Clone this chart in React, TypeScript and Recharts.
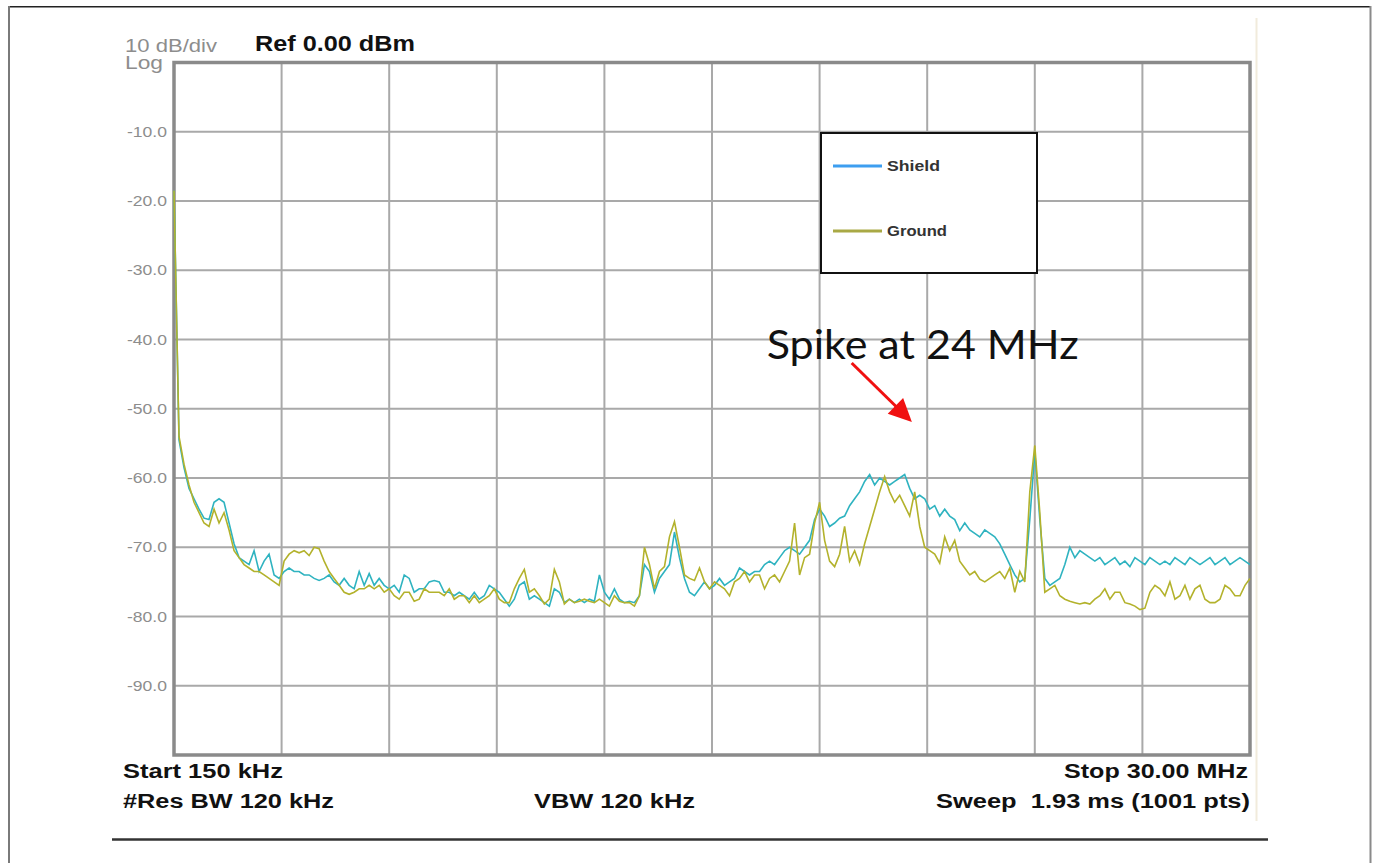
import {
  CartesianGrid,
  Line,
  LineChart,
  ReferenceArea,
  ReferenceLine,
  XAxis,
  YAxis,
} from 'recharts'

// sweep settings
const startMHz = 0.15
const stopMHz = 30

// trace levels in dBm left to right (216 samples)
const shieldDbm = [
  -18.5, -54.5, -58.5, -61.5, -63.0, -64.5, -65.8, -66.0, -63.5, -63.0,
  -63.5, -66.5, -69.5, -71.5, -72.0, -72.5, -70.5, -73.5, -72.0, -71.0,
  -74.0, -74.5, -73.5, -73.0, -73.5, -73.5, -74.0, -74.0, -74.5, -74.8,
  -74.5, -74.0, -75.0, -75.5, -74.5, -75.5, -76.0, -73.5, -75.5, -73.8,
  -75.5, -74.5, -75.5, -76.0, -75.5, -76.5, -74.0, -74.5, -76.5, -76.0,
  -76.0, -75.0, -74.8, -75.0, -76.5, -76.5, -77.0, -76.5, -77.0, -77.5,
  -76.5, -77.5, -77.0, -75.5, -76.0, -76.5, -77.5, -78.5, -77.5, -75.5,
  -75.0, -77.5, -77.0, -77.5, -78.0, -78.5, -76.0, -76.5, -78.0, -77.5,
  -78.0, -77.5, -78.0, -77.5, -77.8, -74.0, -76.5, -77.5, -76.0, -77.5,
  -78.0, -77.8, -78.0, -77.0, -72.5, -73.5, -76.5, -74.5, -73.5, -72.5,
  -67.8, -71.5, -74.5, -76.5, -77.0, -76.0, -75.0, -76.0, -75.5, -74.5,
  -75.5, -75.0, -74.5, -73.0, -73.5, -74.0, -73.5, -73.5, -72.5, -72.0,
  -72.5, -71.5, -70.5, -70.0, -70.5, -71.0, -70.0, -69.0, -66.0, -64.5,
  -65.5, -67.0, -66.5, -65.8, -65.5, -64.0, -63.0, -62.0, -60.5, -59.5,
  -61.0, -60.0, -60.5, -61.0, -60.5, -60.0, -59.5, -61.5, -63.0, -62.5,
  -63.0, -64.5, -64.0, -65.5, -64.5, -65.5, -66.0, -67.6, -66.5, -67.5,
  -68.0, -68.5, -67.5, -68.0, -68.5, -69.5, -71.0, -72.5, -74.0, -75.0,
  -74.5, -66.0, -56.2, -66.0, -74.5, -75.5, -75.0, -74.5, -72.5, -70.0,
  -71.5, -70.5, -71.0, -71.5, -72.0, -71.5, -72.5, -72.0, -71.5, -72.5,
  -72.0, -72.8, -71.5, -72.0, -72.5, -71.5, -72.0, -72.5, -72.0, -72.5,
  -71.5, -72.0, -72.5, -71.5, -72.0, -72.5, -72.0, -71.5, -72.5, -72.0,
  -71.5, -72.5, -72.0, -71.5, -72.0, -72.5,
]

const groundDbm = [
  -18.5, -54.0, -58.0, -61.0, -63.5, -65.0, -66.5, -67.0, -64.5, -66.5,
  -65.0, -67.5, -70.5, -71.5, -72.5, -73.0, -73.5, -73.5, -74.0, -74.5,
  -75.0, -75.5, -72.0, -71.0, -70.5, -70.8, -70.5, -71.2, -70.0, -70.2,
  -72.0, -73.5, -74.5, -75.5, -76.5, -76.8, -76.5, -76.0, -76.0, -75.5,
  -76.0, -75.5, -76.5, -76.0, -77.0, -77.5, -76.5, -76.5, -77.8, -77.5,
  -76.0, -76.5, -76.5, -76.5, -77.0, -76.0, -77.5, -77.0, -77.0, -78.0,
  -77.0, -78.0, -77.5, -77.0, -76.0, -77.5, -78.0, -78.0, -76.0, -74.5,
  -73.2, -76.5, -76.0, -77.0, -78.2, -77.5, -73.2, -75.0, -78.2, -77.5,
  -78.0, -77.8, -77.5, -77.8, -78.0, -77.5, -78.0, -78.5, -77.0, -77.8,
  -78.0, -78.0, -78.5, -77.0, -70.0, -72.5, -76.0, -73.5, -72.8, -68.5,
  -66.3, -70.0, -74.0, -74.5, -74.8, -73.0, -75.0, -76.0, -75.0, -75.5,
  -76.0, -77.0, -75.0, -74.5, -73.5, -75.0, -74.0, -74.0, -76.0, -74.5,
  -74.0, -75.0, -73.5, -72.0, -66.5, -74.0, -71.5, -71.0, -66.5, -63.5,
  -69.0, -72.0, -72.8, -71.0, -67.0, -72.0, -70.5, -72.5, -69.5, -67.0,
  -64.5, -62.0, -59.8, -62.0, -63.5, -62.5, -64.0, -65.5, -62.0, -67.0,
  -70.0, -70.5, -71.0, -72.3, -68.5, -70.5, -69.0, -72.0, -73.0, -74.0,
  -73.5, -74.6, -75.0, -74.5, -74.0, -73.5, -74.5, -73.0, -76.5, -73.5,
  -75.0, -62.0, -55.3, -65.0, -76.5, -76.0, -75.5, -77.0, -77.5, -77.8,
  -78.0, -78.2, -78.0, -78.2, -77.5, -77.0, -76.0, -77.5, -76.5, -76.5,
  -78.0, -78.2, -78.5, -79.0, -78.8, -76.5, -75.5, -76.0, -77.0, -75.0,
  -77.5, -77.0, -75.5, -77.5, -76.0, -75.5, -77.5, -78.0, -78.0, -77.5,
  -75.5, -76.0, -77.0, -77.0, -75.5, -74.5,
]

const levelTicks = [-100, -90, -80, -70, -60, -50, -40, -30, -20, -10, 0]

const traces = [
  { key: 'shield', name: 'Shield', color: '#2fb3c0', legendColor: '#3d9ef0' },
  { key: 'ground', name: 'Ground', color: '#b3b22c', legendColor: '#a9a945' },
]

// the spike marker: arrow from the caption down toward the 24 MHz peak
const spikeArrow = [
  { x: 18.95, y: -43.4 },
  { x: 20.62, y: -51.9 },
]

const stepMHz = (stopMHz - startMHz) / (shieldDbm.length - 1)
const sweep = shieldDbm.map((level, i) => ({
  freq: startMHz + i * stepMHz,
  shield: level,
  ground: groundDbm[i],
}))
const freqTicks = Array.from({ length: 11 }, (_, k) => startMHz + (k * (stopMHz - startMHz)) / 10)

const arial = '"Liberation Sans", Arial, sans-serif'

function LevelTick(props: any) {
  const { x, y, payload } = props
  if (payload.value === 0 || payload.value === -100) return null
  return (
    <text
      x={x}
      y={y + 5}
      textAnchor="end"
      fontFamily={arial}
      fontSize={15}
      fill="#8d8d8d"
      textLength={40}
      lengthAdjust="spacingAndGlyphs"
    >
      {payload.value.toFixed(1)}
    </text>
  )
}

function ArrowShape(props: any) {
  const { x1, y1, x2, y2 } = props
  const dx = x2 - x1
  const dy = y2 - y1
  const len = Math.sqrt(dx * dx + dy * dy)
  const ux = dx / len
  const uy = dy / len
  const head = 23
  const half = 11
  const bx = x2 - ux * head
  const by = y2 - uy * head
  return (
    <g>
      <text
        x={x1 - 85}
        y={y1 - 4}
        fontFamily="Lato, 'Open Sans', sans-serif"
        fontSize={41}
        fill="#111"
        textLength={312}
        lengthAdjust="spacingAndGlyphs"
      >
        Spike at 24 MHz
      </text>
      <line x1={x1} y1={y1} x2={bx + ux * 2} y2={by + uy * 2} stroke="#f01010" strokeWidth={3} />
      <polygon
        points={`${x2},${y2} ${bx - uy * half},${by + ux * half} ${bx + uy * half},${by - ux * half}`}
        fill="#f01010"
      />
    </g>
  )
}

function TraceLegend() {
  return (
    <div
      style={{
        position: 'absolute',
        left: 820,
        top: 132,
        width: 218,
        height: 142,
        border: '2px solid #111',
        background: '#fff',
        boxSizing: 'border-box',
      }}
    >
      <svg width={214} height={138}>
        {traces.map((t, i) => (
          <g key={t.key} transform={`translate(0, ${i * 65})`}>
            <line x1={11} y1={32} x2={60} y2={32} stroke={t.legendColor} strokeWidth={3} />
            <text
              x={65}
              y={37}
              fontFamily={arial}
              fontWeight="bold"
              fontSize={15}
              fill="#333"
              textLength={t.name === 'Shield' ? 53 : 60}
              lengthAdjust="spacingAndGlyphs"
            >
              {t.name}
            </text>
          </g>
        ))}
      </svg>
    </div>
  )
}

function ScreenText() {
  const bold = { fontFamily: arial, fontWeight: 'bold' as const, fill: '#111' }
  return (
    <svg
      width={1376}
      height={863}
      style={{ position: 'absolute', left: 0, top: 0, pointerEvents: 'none' }}
    >
      <line x1={8} y1={6.8} x2={1371} y2={6.8} stroke="#222" strokeWidth={1.6} />
      <line x1={9} y1={6} x2={9} y2={863} stroke="#7a7a7a" strokeWidth={2} />
      <line x1={1370.5} y1={6} x2={1370.5} y2={863} stroke="#8a8a8a" strokeWidth={2} />
      <line x1={1256.5} y1={18} x2={1256.5} y2={821} stroke="#f1ebdc" strokeWidth={2} />
      <line x1={112} y1={839.5} x2={1268} y2={839.5} stroke="#333" strokeWidth={2.6} />

      <text x={125} y={51.5} fontFamily={arial} fontSize={18} fill="#8d8d8d" textLength={92} lengthAdjust="spacingAndGlyphs">
        10 dB/div
      </text>
      <text x={125} y={69} fontFamily={arial} fontSize={18} fill="#8d8d8d" textLength={38} lengthAdjust="spacingAndGlyphs">
        Log
      </text>
      <text x={255} y={50.5} {...bold} fontSize={22} textLength={160} lengthAdjust="spacingAndGlyphs">
        Ref 0.00 dBm
      </text>

      <text x={123} y={778} {...bold} fontSize={20} textLength={160} lengthAdjust="spacingAndGlyphs">
        Start 150 kHz
      </text>
      <text x={123} y={808} {...bold} fontSize={20} textLength={211} lengthAdjust="spacingAndGlyphs">
        #Res BW 120 kHz
      </text>
      <text x={534} y={808} {...bold} fontSize={20} textLength={161} lengthAdjust="spacingAndGlyphs">
        VBW 120 kHz
      </text>
      <text x={1248} y={778} textAnchor="end" {...bold} fontSize={20} textLength={184} lengthAdjust="spacingAndGlyphs">
        Stop 30.00 MHz
      </text>
      <text
        x={1250}
        y={808}
        textAnchor="end"
        {...bold}
        fontSize={20}
        textLength={314}
        lengthAdjust="spacingAndGlyphs"
        style={{ whiteSpace: 'pre' }}
      >
        Sweep  1.93 ms (1001 pts)
      </text>
    </svg>
  )
}

export default function App() {
  return (
    <div style={{ position: 'absolute', left: 0, top: 0, width: 1376, height: 863, background: '#fff' }}>
      <ScreenText />
      <div style={{ position: 'absolute', left: 0, top: 0 }}>
        <LineChart
          width={1376}
          height={863}
          data={sweep}
          margin={{ top: 62.5, right: 126, bottom: 108, left: 114 }}
        >
          <CartesianGrid stroke="#a9a9a9" strokeWidth={2} />
          <XAxis
            type="number"
            dataKey="freq"
            domain={[startMHz, stopMHz]}
            ticks={freqTicks}
            interval={0}
            hide
          />
          <YAxis
            type="number"
            domain={[-100, 0]}
            ticks={levelTicks}
            interval={0}
            width={60}
            axisLine={false}
            tickLine={false}
            tickSize={0}
            tickMargin={7}
            tick={<LevelTick />}
          />
          <ReferenceArea
            x1={startMHz}
            x2={stopMHz}
            y1={-100}
            y2={0}
            fill="none"
            fillOpacity={0}
            stroke="#8a8a8a"
            strokeWidth={3.5}
          />
          {traces.map((t) => (
            <Line
              key={t.key}
              type="linear"
              dataKey={t.key}
              name={t.name}
              stroke={t.color}
              strokeWidth={1.6}
              dot={false}
              activeDot={false}
              isAnimationActive={false}
            />
          ))}
          <ReferenceLine segment={spikeArrow} ifOverflow="visible" shape={<ArrowShape />} />
        </LineChart>
      </div>
      <TraceLegend />
    </div>
  )
}
